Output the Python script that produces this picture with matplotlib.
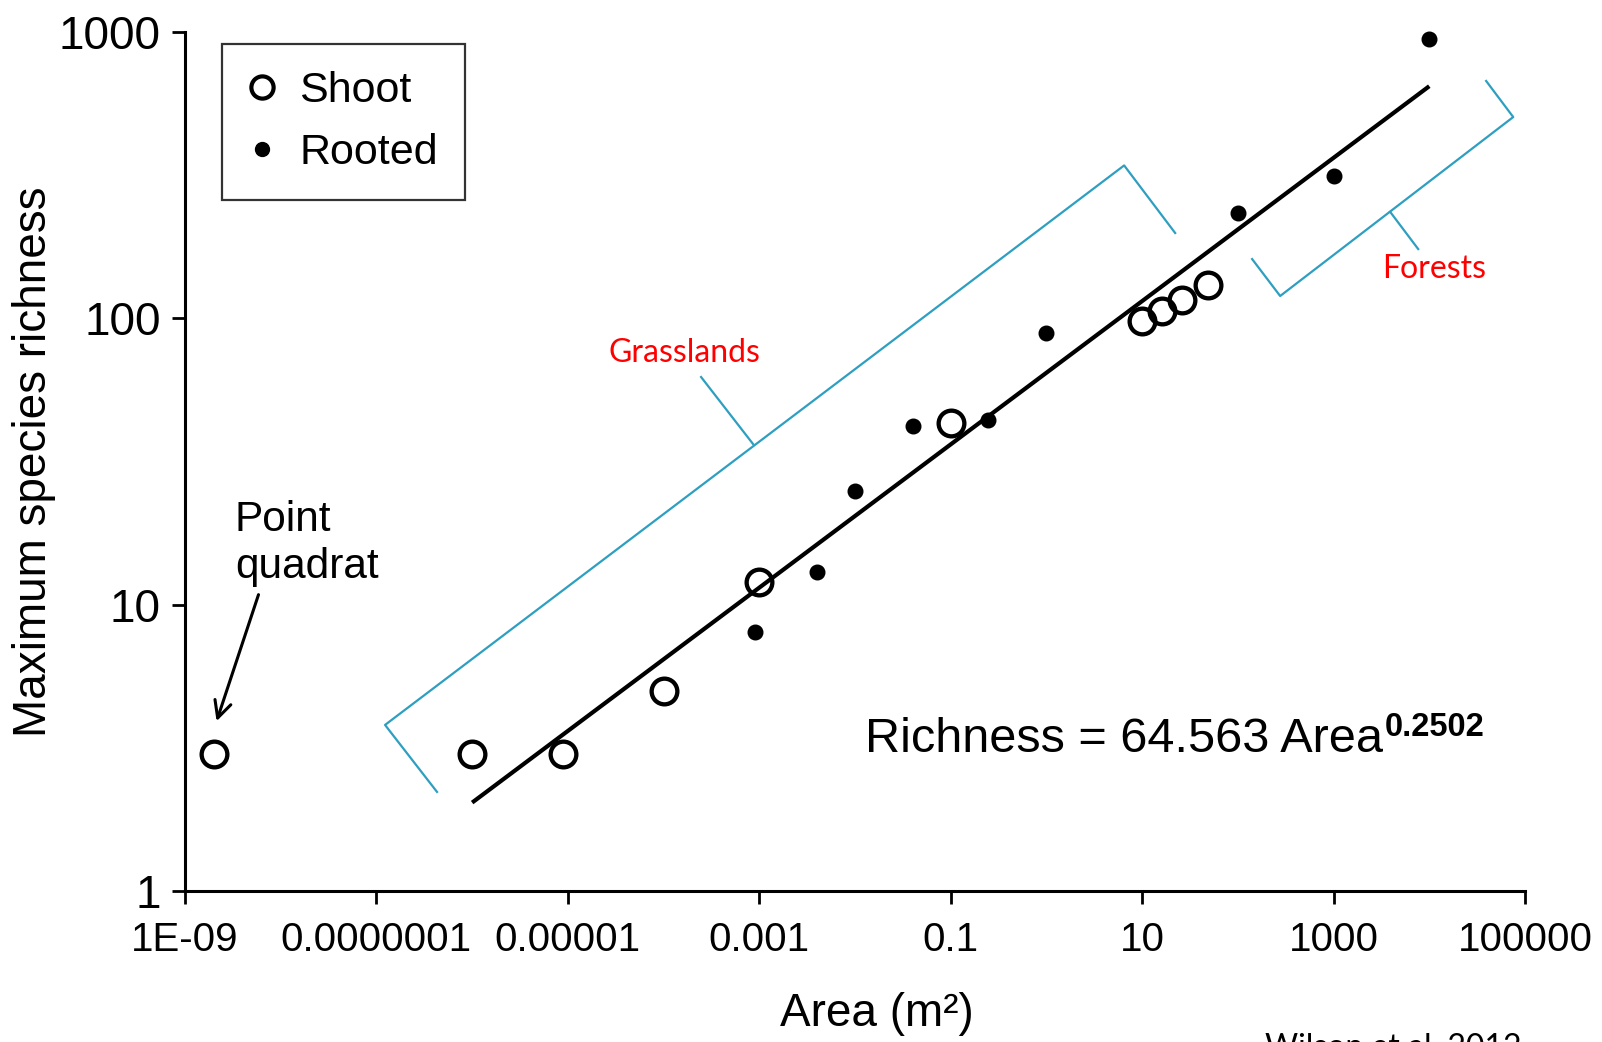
import matplotlib
matplotlib.use("Agg")
import matplotlib.pyplot as plt
from matplotlib.lines import Line2D
import matplotlib.ticker as mticker

plt.rcParams['font.family'] = ['Liberation Sans', 'DejaVu Sans']

# ---------------- data ----------------
shoot_area = [2e-9, 1e-6, 9e-6, 1e-4, 1e-3, 0.1, 10, 16, 26, 49]
shoot_rich = [3, 3, 3, 5, 12, 43, 98, 106, 116, 131]
rooted_area = [9e-4, 4e-3, 0.01, 0.04, 0.245, 1, 100, 1000, 10000]
rooted_rich = [8, 13, 25, 42, 44, 89, 234, 315, 948]

fit_coef = 64.563
fit_exp = 0.2502
fit_range = [1e-6, 1e4]

x_ticks = [1e-9, 1e-7, 1e-5, 1e-3, 1e-1, 1e1, 1e3, 1e5]
x_tick_labels = ['1E-09', '0.0000001', '0.00001', '0.001', '0.1', '10', '1000', '100000']
y_ticks = [1, 10, 100, 1000]
y_tick_labels = ['1', '10', '100', '1000']

# bracket annotation vertices (log10 area, log10 richness)
grass_bracket = [(-6.367, 0.346), (-6.910, 0.580), (0.812, 2.534), (1.345, 2.298)]
grass_mid = [(-3.065, 1.561), (-3.608, 1.795)]
forest_bracket = [(2.149, 2.207), (2.442, 2.078), (4.877, 2.703), (4.594, 2.829)]
forest_mid = [(3.591, 2.372), (3.884, 2.242)]

W, H = 1602, 1042
fig = plt.figure(figsize=(W / 100, H / 100), dpi=100)
ax = fig.add_axes([185 / W, 1 - 891 / H, 1340 / W, 859 / H])

ax.set_xscale('log')
ax.set_yscale('log')
ax.set_xlim(1e-9, 1e5)
ax.set_ylim(1, 1000)

# fitted line
fx = fit_range
fy = [fit_coef * a ** fit_exp for a in fx]
ax.plot(fx, fy, color='black', lw=3.0, solid_capstyle='butt', zorder=3)

# points
ax.plot(shoot_area, shoot_rich, linestyle='none', marker='o', ms=18.5,
        mfc='none', mec='black', mew=3.1, zorder=4, clip_on=False)
ax.plot(rooted_area, rooted_rich, linestyle='none', marker='o', ms=10.5,
        mfc='black', mec='black', zorder=4, clip_on=False)

# brackets
bcol = '#2e9fc0'
for pts in (grass_bracket, grass_mid, forest_bracket, forest_mid):
    xs = [10 ** p[0] for p in pts]
    ys = [10 ** p[1] for p in pts]
    ax.plot(xs, ys, color=bcol, lw=1.6, clip_on=False, zorder=2)

ax.text(10 ** (-9 + (684.5 - 185) / 95.7), 10 ** ((891 - 353.5) / 286.3), 'Grasslands',
        color='#ff0000', fontsize=23, family=['Lato', 'DejaVu Sans'],
        ha='center', va='center')
ax.text(10 ** (-9 + (1433.5 - 185) / 95.7), 10 ** ((891 - 268.7) / 286.3), 'Forests',
        color='#ff0000', fontsize=23, family=['Lato', 'DejaVu Sans'],
        ha='center', va='center')

# point quadrat annotation
ax.text(10 ** -8.478, 10 ** 1.213, 'Point\nquadrat', fontsize=30.5,
        ha='left', va='center', linespacing=1.24)
ax.annotate('', xy=(10 ** -8.670, 10 ** 0.593), xytext=(10 ** -8.232, 10 ** 1.035),
            arrowprops=dict(arrowstyle='->', color='black', lw=2.2,
                            mutation_scale=30, shrinkA=0, shrinkB=0))

# equation
t_main = ax.text((865 - 185) / 1340, (891 - 752) / 859, 'Richness = 64.563 Area',
                 transform=ax.transAxes, fontsize=35, ha='left', va='baseline')
ax.annotate('0.2502', xy=(1, 0), xycoords=t_main, xytext=(1.5, 18.5),
            textcoords='offset points', fontsize=23.5, fontweight='bold',
            ha='left', va='baseline')

# axes styling
for s in ('top', 'right'):
    ax.spines[s].set_visible(False)
for s in ('left', 'bottom'):
    ax.spines[s].set_linewidth(2.2)
ax.xaxis.set_major_locator(mticker.FixedLocator(x_ticks))
ax.xaxis.set_minor_locator(mticker.NullLocator())
ax.yaxis.set_major_locator(mticker.FixedLocator(y_ticks))
ax.yaxis.set_minor_locator(mticker.NullLocator())
ax.set_xticklabels(x_tick_labels)
ax.set_yticklabels(y_tick_labels)
ax.tick_params(axis='both', direction='out', length=9.5, width=2.0)
ax.tick_params(axis='x', labelsize=29, pad=12)
ax.tick_params(axis='y', labelsize=33, pad=8)

ax.set_xlabel('Area (m²)', fontsize=33, va='center')
ax.xaxis.set_label_coords((877 - 185) / 1340, (891 - 1014) / 859)
ax.set_ylabel('Maximum species richness', fontsize=33, va='center')
ax.yaxis.set_label_coords((34 - 185) / 1340, (891 - 462) / 859)

# legend
handles = [
    Line2D([], [], linestyle='none', marker='o', ms=16, mfc='none', mec='black', mew=3.0),
    Line2D([], [], linestyle='none', marker='o', ms=10, mfc='black', mec='black'),
]
leg = ax.legend(handles, ['Shoot', 'Rooted'], loc='upper left',
                bbox_to_anchor=(222 / W, 1 - 44 / H), bbox_transform=fig.transFigure,
                fontsize=31, frameon=True, fancybox=False, shadow=False,
                borderpad=0.62, handlelength=0.6, handletextpad=0.58,
                labelspacing=0.52, borderaxespad=0, numpoints=1)
leg.get_frame().set_edgecolor('black')
leg.get_frame().set_linewidth(1.6)

# source note (cut by the bottom edge as in the original)
fig.text(1265 / W, 1 - 1033 / H, 'Wilson et al. 2012', fontsize=23,
         family=['Lato', 'DejaVu Sans'], ha='left', va='top')

fig.savefig('out.png', dpi=100)
